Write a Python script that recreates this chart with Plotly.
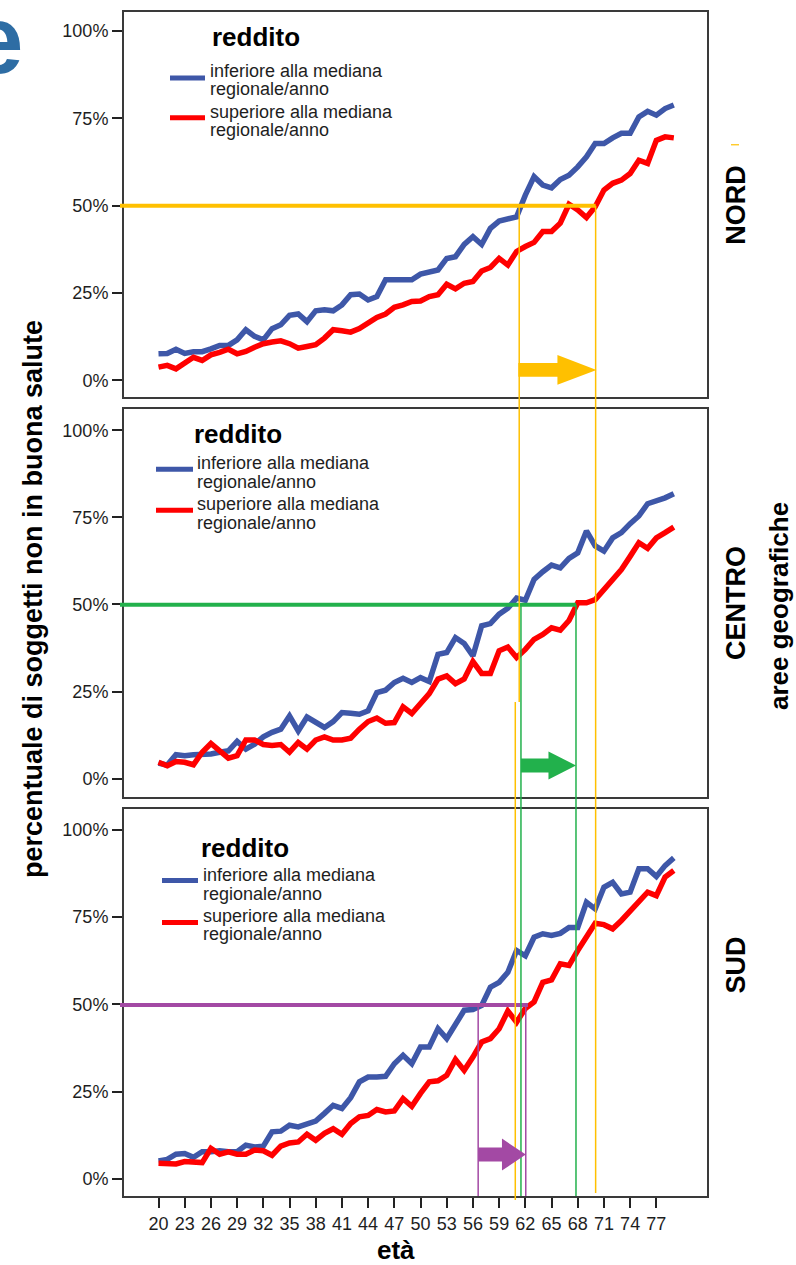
import plotly.graph_objects as go

# ---------------- data ----------------
ages = list(range(20, 80))

nord_inferiore = [7.6, 7.7, 8.9, 7.7, 8.2, 8.2, 9.0, 10.0, 10.0, 11.6,
                  14.5, 12.6, 11.6, 14.8, 15.9, 18.6, 19.0, 16.8, 19.9, 20.2,
                  19.9, 21.6, 24.5, 24.7, 23.0, 24.0, 28.8, 28.8, 28.5, 28.8,
                  30.4, 30.9, 31.6, 34.9, 35.4, 38.9, 41.1, 38.9, 43.5, 45.6,
                  46.4, 46.8, 53.0, 58.3, 55.9, 55.1, 57.5, 58.7, 61.1, 64.0,
                  67.8, 67.8, 69.4, 70.7, 70.7, 75.4, 77.0, 75.9, 77.8, 78.8]
nord_superiore = [3.8, 4.3, 3.3, 4.8, 6.6, 5.7, 7.3, 8.0, 8.9, 7.6,
                  8.3, 9.5, 10.5, 11.0, 11.3, 10.5, 9.2, 9.7, 10.2, 12.1,
                  14.5, 14.2, 13.8, 14.8, 16.4, 18.0, 19.0, 20.9, 21.6, 22.6,
                  22.7, 24.0, 24.5, 27.5, 26.2, 27.8, 28.3, 31.3, 32.3, 34.9,
                  33.0, 36.9, 38.3, 39.5, 42.6, 42.6, 45.0, 50.4, 48.8, 46.6,
                  49.7, 54.5, 56.4, 57.3, 59.2, 63.0, 62.1, 68.7, 69.7, 69.4]
centro_inferiore = [4.5, 3.9, 6.9, 6.6, 6.9, 6.9, 7.1, 7.6, 8.0, 10.7,
                    8.5, 9.9, 12.0, 13.3, 14.2, 18.0, 13.7, 17.7, 16.4, 14.7,
                    16.4, 19.0, 18.8, 18.5, 19.5, 24.7, 25.4, 27.6, 28.8, 27.6,
                    29.0, 27.9, 35.7, 36.2, 40.5, 38.8, 35.2, 43.9, 44.5, 47.2,
                    48.9, 51.8, 51.2, 57.2, 59.4, 61.3, 60.5, 63.2, 64.8, 71.1,
                    66.8, 65.3, 69.1, 70.6, 73.2, 75.4, 78.9, 79.7, 80.6, 81.8]
centro_superiore = [4.7, 3.7, 4.9, 4.7, 4.0, 7.6, 10.1, 8.2, 5.9, 6.6,
                    11.1, 11.1, 9.8, 9.5, 9.8, 7.6, 10.4, 8.5, 11.1, 12.0,
                    11.1, 11.1, 11.6, 14.2, 16.4, 17.4, 15.9, 16.1, 20.6, 18.7,
                    21.4, 24.4, 28.6, 29.5, 27.3, 28.6, 33.6, 30.2, 30.2, 36.7,
                    37.8, 34.8, 37.1, 40.0, 41.4, 43.3, 42.6, 45.4, 50.5, 50.5,
                    51.4, 54.3, 56.6, 60.0, 63.8, 67.7, 66.1, 69.1, 70.6, 72.2]
sud_inferiore = [5.2, 5.6, 7.1, 7.3, 6.2, 7.8, 7.8, 8.1, 7.8, 7.8,
                 9.7, 9.2, 9.4, 13.5, 13.7, 15.4, 14.9, 15.7, 16.6, 18.8,
                 21.1, 20.2, 23.3, 27.8, 29.2, 29.2, 29.4, 33.0, 35.4, 33.0,
                 37.8, 37.8, 43.0, 40.2, 44.5, 48.3, 48.5, 49.7, 54.9, 56.3,
                 59.2, 65.4, 63.9, 69.2, 70.2, 69.7, 70.3, 72.0, 72.0, 79.2,
                 77.3, 83.5, 84.9, 81.6, 82.1, 88.8, 88.8, 86.6, 89.7, 91.9]
sud_superiore = [4.5, 4.3, 4.3, 5.0, 5.0, 4.7, 8.8, 7.1, 7.8, 7.1,
                 7.1, 8.3, 8.1, 6.8, 9.4, 10.3, 10.6, 12.8, 11.1, 13.1,
                 14.4, 12.8, 15.9, 17.8, 18.2, 19.9, 19.2, 19.5, 23.0, 20.8,
                 24.5, 27.8, 28.1, 29.7, 34.2, 31.1, 34.9, 39.2, 40.2, 43.0,
                 48.1, 44.9, 48.8, 50.7, 56.3, 57.0, 61.6, 61.1, 65.4, 69.2,
                 73.2, 72.8, 71.6, 74.0, 76.9, 79.7, 82.1, 81.1, 86.4, 88.3]

tick_ages = list(range(20, 78, 3))
pct_ticks = [0, 25, 50, 75, 100]
pct_labels = ["0%", "25%", "50%", "75%", "100%"]
panel_names = ["NORD", "CENTRO", "SUD"]
legend_title = "reddito"
legend_lines = [["inferiore alla mediana", "regionale/anno"],
                ["superiore alla mediana", "regionale/anno"]]

# ages at which the 50% level is reached (hand-drawn guides)
yellow_ages = [61.3, 60.85, 70.05]
green_ages = [61.5, 67.8]
purple_ages = [56.6, 62.05, 62.3]
arrow_centers = [3.0, 3.8, 7.0]   # % level of the block arrows per panel

# ---------------- style / layout ----------------
W, H = 796, 1265
L, R, T, B = 124, 89, 10, 69
PW, PH = W - L - R, H - T - B
BLUE = "#3E57A8"
RED = "#FF0000"
YEL = "#FFC000"
GRN = "#22B14C"
PUR = "#A349A4"
TXT = "#1e1e1e"
FONT = "Liberation Sans, Arial, sans-serif"

panel_px = [(10, 396), (408, 796), (808, 1196)]
YR = [[-4.86, 105.43], [-5.16, 106.0], [-4.86, 106.0]]
XR = [16.05, 82.8]


def pyp(py):
    return (H - B - py) / PH


def pxp(px):
    return (px - L) / PW


DOM = [[pyp(b), pyp(t)] for (t, b) in panel_px]


def xp(age):
    return (age - XR[0]) / (XR[1] - XR[0])


def yp(i, v):
    lo, hi = YR[i]
    d0, d1 = DOM[i]
    return d0 + (v - lo) / (hi - lo) * (d1 - d0)


series = [(nord_inferiore, nord_superiore),
          (centro_inferiore, centro_superiore),
          (sud_inferiore, sud_superiore)]

fig = go.Figure()
for i, (inf, sup) in enumerate(series):
    sfx = "" if i == 0 else str(i + 1)
    fig.add_trace(go.Scatter(x=ages, y=inf, mode="lines", xaxis="x" + sfx, yaxis="y" + sfx,
                             line=dict(color=BLUE, width=5.5), showlegend=False, hoverinfo="skip"))
    fig.add_trace(go.Scatter(x=ages, y=sup, mode="lines", xaxis="x" + sfx, yaxis="y" + sfx,
                             line=dict(color=RED, width=5.5), showlegend=False, hoverinfo="skip"))

layout = dict(width=W, height=H, margin=dict(l=L, r=R, t=T, b=B),
              paper_bgcolor="white", plot_bgcolor="white", showlegend=False,
              font=dict(family=FONT, color=TXT, size=18))
for i in range(3):
    sfx = "" if i == 0 else str(i + 1)
    bottom = (i == 2)
    layout["xaxis" + sfx] = dict(domain=[0, 1], anchor="y" + sfx, range=XR,
                                 showgrid=False, zeroline=False, showline=True, mirror=True,
                                 linecolor="#3a3a3a", linewidth=2,
                                 tickmode="array", tickvals=tick_ages if bottom else [],
                                 ticktext=[str(a) for a in tick_ages] if bottom else [],
                                 ticks="outside" if bottom else "", ticklen=10, tickwidth=1.5,
                                 tickcolor="#222", showticklabels=bottom,
                                 tickfont=dict(size=18, family=FONT, color=TXT))
    layout["yaxis" + sfx] = dict(domain=DOM[i], anchor="x" + sfx, range=YR[i],
                                 showgrid=False, zeroline=False, showline=True, mirror=True,
                                 linecolor="#3a3a3a", linewidth=2,
                                 tickmode="array", tickvals=pct_ticks, ticktext=pct_labels,
                                 ticks="outside", ticklen=10, tickwidth=1.5, tickcolor="#222",
                                 tickfont=dict(size=18, family=FONT, color=TXT))
fig.update_layout(**layout)

shapes = []
annotations = []


def pline(x0, y0, x1, y1, color, width):
    shapes.append(dict(type="line", xref="paper", yref="paper", x0=x0, y0=y0, x1=x1, y1=y1,
                       line=dict(color=color, width=width), layer="above"))


# horizontal 50% guides
pline(pxp(120), yp(0, 50), xp(yellow_ages[2]), yp(0, 50), YEL, 4)
pline(pxp(120), yp(1, 49.9), xp(green_ages[1]), yp(1, 49.9), GRN, 4)
pline(pxp(120), yp(2, 49.8), xp(purple_ages[2]), yp(2, 49.8), PUR, 4)

# vertical guides
pline(xp(yellow_ages[0]), yp(0, 50), xp(yellow_ages[0]), yp(1, 22), YEL, 1.5)
pline(xp(yellow_ages[1]), yp(1, 22), xp(yellow_ages[1]), pyp(1200), YEL, 1.5)
pline(xp(yellow_ages[2]), yp(0, 50), xp(yellow_ages[2]), pyp(1193), YEL, 1.5)
pline(xp(green_ages[0]), yp(1, 49.9), xp(green_ages[0]), pyp(1196), GRN, 1.5)
pline(xp(green_ages[1]), yp(1, 49.9), xp(green_ages[1]), pyp(1196), GRN, 1.5)
pline(xp(purple_ages[0]), yp(2, 49.8), xp(purple_ages[0]), pyp(1196), PUR, 1.5)
pline(xp(purple_ages[1]), yp(2, 49.8), xp(purple_ages[1]), pyp(1196), PUR, 1.5)

# tiny yellow dash near NORD label
pline(pxp(731), pyp(143), pxp(739), pyp(143), YEL, 1.2)


def block_arrow(i, a0, a1, center, shaft_px, head_px, color):
    ym = yp(i, center)
    s = shaft_px / PH
    h = head_px / PH
    x0, x1 = xp(a0), xp(a1)
    xm = (x0 + x1) / 2
    path = (f"M {x0},{ym - s} L {xm},{ym - s} L {xm},{ym - h} L {x1},{ym} "
            f"L {xm},{ym + h} L {xm},{ym + s} L {x0},{ym + s} Z")
    shapes.append(dict(type="path", xref="paper", yref="paper", path=path,
                       fillcolor=color, line=dict(width=0), layer="above"))


block_arrow(0, yellow_ages[0] - 0.1, yellow_ages[2] + 0.1, arrow_centers[0], 7, 15, YEL)
block_arrow(1, green_ages[0], green_ages[1], arrow_centers[1], 7, 14, GRN)
block_arrow(2, purple_ages[0], purple_ages[1], arrow_centers[2], 7, 16, PUR)

# legends inside each panel
legend_pos = [  # title_x, title_y, line_x0, line_x1, text_x, blue_y, red_y, text_y(4)
    (210, 35, 170, 205, 208, 76, 116, [69, 87, 110, 128]),
    (192, 433, 156, 193, 195, 468, 509, [462, 481, 503, 522]),
    (199, 847, 162, 198, 201, 880, 922, [874, 893, 916, 934]),
]
for (tx, ty, lx0, lx1, txx, by, ry, tys) in legend_pos:
    annotations.append(dict(xref="paper", yref="paper", x=pxp(tx), y=pyp(ty),
                            xanchor="left", yanchor="middle", showarrow=False,
                            text="<b>" + legend_title + "</b>",
                            font=dict(size=26, family=FONT, color="black")))
    pline(pxp(lx0), pyp(by), pxp(lx1), pyp(by), BLUE, 5)
    pline(pxp(lx0), pyp(ry), pxp(lx1), pyp(ry), RED, 5)
    k = 0
    for entry in legend_lines:
        for line in entry:
            annotations.append(dict(xref="paper", yref="paper", x=pxp(txx), y=pyp(tys[k]),
                                    xanchor="left", yanchor="middle", showarrow=False,
                                    text=line, font=dict(size=18, family=FONT, color=TXT)))
            k += 1

# panel names on the right
for name, (cx, cy) in zip(panel_names, [(736, 203), (736, 602), (736, 965)]):
    annotations.append(dict(xref="paper", yref="paper", x=pxp(cx), y=pyp(cy),
                            xanchor="center", yanchor="middle", showarrow=False, textangle=-90,
                            text="<b>" + name + "</b>", font=dict(size=27, family=FONT, color="black")))
annotations.append(dict(xref="paper", yref="paper", x=pxp(779), y=pyp(605),
                        xanchor="center", yanchor="middle", showarrow=False, textangle=-90,
                        text="<b>aree geografiche</b>", font=dict(size=26, family=FONT, color="black")))

# axis titles
annotations.append(dict(xref="paper", yref="paper", x=pxp(33), y=pyp(598),
                        xanchor="center", yanchor="middle", showarrow=False, textangle=-90,
                        text="<b>percentuale di soggetti non in buona salute</b>",
                        font=dict(size=27, family=FONT, color="black")))
annotations.append(dict(xref="paper", yref="paper", x=pxp(396), y=pyp(1250),
                        xanchor="center", yanchor="middle", showarrow=False,
                        text="<b>età</b>", font=dict(size=26, family=FONT, color="black")))

# cropped slide-title letter at the top left (cut by the image edge, as in the source)
annotations.append(dict(xref="paper", yref="paper", x=pxp(25), y=pyp(38),
                        xanchor="right", yanchor="middle", showarrow=False,
                        text="<b>e</b>", font=dict(size=96, family=FONT, color="#2E6DA4")))

fig.update_layout(shapes=shapes, annotations=annotations)
fig.write_html("out.html", config={"displayModeBar": False},
               post_script="document.body.style.margin='0px';document.body.style.overflow='hidden';")
